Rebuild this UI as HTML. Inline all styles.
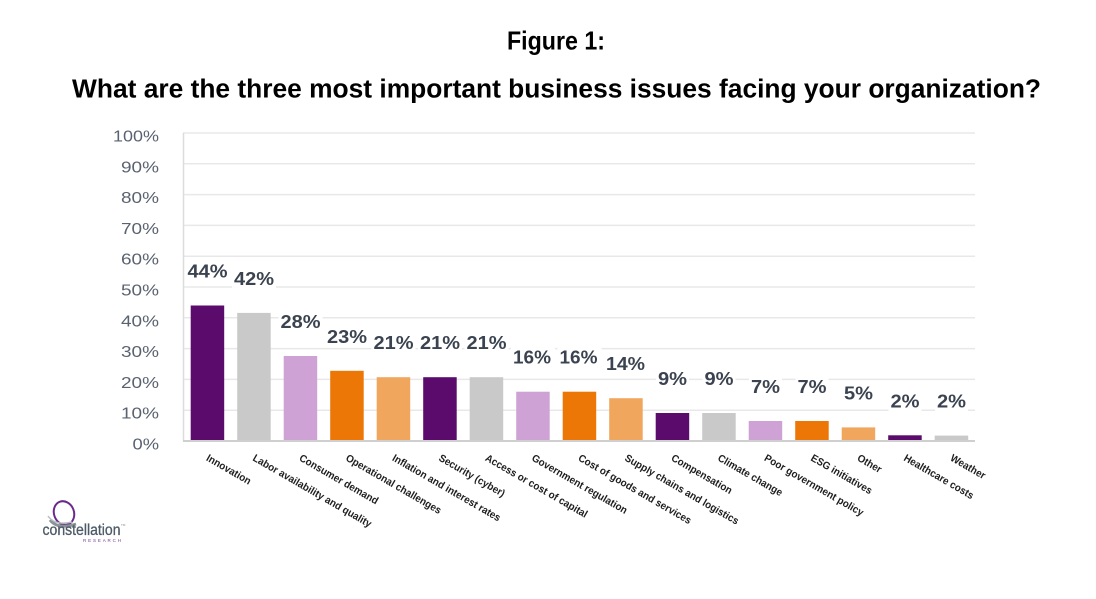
<!DOCTYPE html>
<html>
<head>
<meta charset="utf-8">
<style>
  html,body{margin:0;padding:0;background:#ffffff;}
  svg{display:block;}
  .t{font-family:"Liberation Sans",Arial,sans-serif;}
</style>
</head>
<body>
<svg width="1096" height="599" viewBox="0 0 1096 599" xmlns="http://www.w3.org/2000/svg">
  <rect width="1096" height="599" fill="#ffffff"/>

  <!-- Titles -->
  <text class="t" x="507" y="49.5" font-size="26" font-weight="bold" fill="#000" textLength="98" lengthAdjust="spacingAndGlyphs">Figure 1:</text>
  <text class="t" x="72" y="97.5" font-size="25.5" font-weight="bold" fill="#000" textLength="969" lengthAdjust="spacingAndGlyphs">What are the three most important business issues facing your organization?</text>

  <!-- Gridlines -->
  <g stroke="#e8e8e8" stroke-width="1.5">
    <line x1="183" y1="133" x2="975" y2="133"/>
    <line x1="183" y1="163.8" x2="975" y2="163.8"/>
    <line x1="183" y1="194.6" x2="975" y2="194.6"/>
    <line x1="183" y1="225.4" x2="975" y2="225.4"/>
    <line x1="183" y1="256.2" x2="975" y2="256.2"/>
    <line x1="183" y1="287" x2="975" y2="287"/>
    <line x1="183" y1="317.8" x2="975" y2="317.8"/>
    <line x1="183" y1="348.6" x2="975" y2="348.6"/>
    <line x1="183" y1="379.4" x2="975" y2="379.4"/>
    <line x1="183" y1="410.2" x2="975" y2="410.2"/>
  </g>
  <line x1="183.5" y1="133" x2="183.5" y2="441" stroke="#dcdcdc" stroke-width="1.5"/>

  <!-- Y tick labels -->
  <g class="t" font-size="15.5" fill="#5a6270" text-anchor="end">
    <text x="159" y="141.5" textLength="46" lengthAdjust="spacingAndGlyphs">100%</text>
    <text x="159" y="172.3" textLength="38" lengthAdjust="spacingAndGlyphs">90%</text>
    <text x="159" y="203.1" textLength="38" lengthAdjust="spacingAndGlyphs">80%</text>
    <text x="159" y="233.9" textLength="38" lengthAdjust="spacingAndGlyphs">70%</text>
    <text x="159" y="264.7" textLength="38" lengthAdjust="spacingAndGlyphs">60%</text>
    <text x="159" y="295.5" textLength="38" lengthAdjust="spacingAndGlyphs">50%</text>
    <text x="159" y="326.3" textLength="38" lengthAdjust="spacingAndGlyphs">40%</text>
    <text x="159" y="357.1" textLength="38" lengthAdjust="spacingAndGlyphs">30%</text>
    <text x="159" y="387.9" textLength="38" lengthAdjust="spacingAndGlyphs">20%</text>
    <text x="159" y="418.7" textLength="38" lengthAdjust="spacingAndGlyphs">10%</text>
    <text x="159" y="449.5" textLength="26.5" lengthAdjust="spacingAndGlyphs">0%</text>
  </g>

  <!-- Bars -->
  <g>
    <rect x="190.7" y="305.5" width="33.5" height="135" fill="#5b0b6b"/>
    <rect x="237.2" y="312.9" width="33.5" height="127.6" fill="#c9c9c9"/>
    <rect x="283.7" y="356.0" width="33.5" height="84.5" fill="#cfa2d6"/>
    <rect x="330.2" y="370.8" width="33.5" height="69.7" fill="#ec7706"/>
    <rect x="376.7" y="377.2" width="33.5" height="63.3" fill="#f0a65d"/>
    <rect x="423.2" y="377.2" width="33.5" height="63.3" fill="#5b0b6b"/>
    <rect x="469.7" y="377.2" width="33.5" height="63.3" fill="#c9c9c9"/>
    <rect x="516.2" y="391.7" width="33.5" height="48.8" fill="#cfa2d6"/>
    <rect x="562.7" y="391.7" width="33.5" height="48.8" fill="#ec7706"/>
    <rect x="609.2" y="398.2" width="33.5" height="42.3" fill="#f0a65d"/>
    <rect x="655.7" y="413.0" width="33.5" height="27.5" fill="#5b0b6b"/>
    <rect x="702.2" y="413.0" width="33.5" height="27.5" fill="#c9c9c9"/>
    <rect x="748.7" y="421.0" width="33.5" height="19.5" fill="#cfa2d6"/>
    <rect x="795.2" y="421.0" width="33.5" height="19.5" fill="#ec7706"/>
    <rect x="841.7" y="427.4" width="33.5" height="13.1" fill="#f0a65d"/>
    <rect x="888.2" y="435.3" width="33.5" height="5.2" fill="#5b0b6b"/>
    <rect x="934.7" y="435.6" width="33.5" height="4.9" fill="#c9c9c9"/>
  </g>

  <!-- Baseline -->
  <line x1="183" y1="441" x2="975" y2="441" stroke="#cfcfcf" stroke-width="2"/>

  <!-- Value label backgrounds -->
  <g fill="#ffffff">
    <rect x="185.5" y="261.5" width="44" height="20"/>
    <rect x="232" y="268.9" width="44" height="20"/>
    <rect x="278.5" y="312" width="44" height="20"/>
    <rect x="325" y="326.8" width="44" height="20"/>
    <rect x="371.5" y="333.2" width="44" height="20"/>
    <rect x="418" y="333.2" width="44" height="20"/>
    <rect x="464.5" y="333.2" width="44" height="20"/>
    <rect x="511" y="347.7" width="44" height="20"/>
    <rect x="557.5" y="347.7" width="44" height="20"/>
    <rect x="604" y="354.2" width="44" height="20"/>
    <rect x="656" y="369" width="33" height="20"/>
    <rect x="702.5" y="369" width="33" height="20"/>
    <rect x="749" y="377" width="33" height="20"/>
    <rect x="795.5" y="377" width="33" height="20"/>
    <rect x="842" y="383.4" width="33" height="20"/>
    <rect x="888.5" y="391.3" width="33" height="20"/>
    <rect x="935" y="391.6" width="33" height="20"/>
  </g>

  <!-- Value labels -->
  <g class="t" font-size="18" font-weight="bold" fill="#3b4350">
    <text x="187.5" y="277.5" textLength="40" lengthAdjust="spacingAndGlyphs">44%</text>
    <text x="234" y="284.9" textLength="40" lengthAdjust="spacingAndGlyphs">42%</text>
    <text x="280.5" y="328" textLength="40" lengthAdjust="spacingAndGlyphs">28%</text>
    <text x="327" y="342.8" textLength="40" lengthAdjust="spacingAndGlyphs">23%</text>
    <text x="373.5" y="349.2" textLength="40" lengthAdjust="spacingAndGlyphs">21%</text>
    <text x="420" y="349.2" textLength="40" lengthAdjust="spacingAndGlyphs">21%</text>
    <text x="466.5" y="349.2" textLength="40" lengthAdjust="spacingAndGlyphs">21%</text>
    <text x="513" y="363.7" textLength="38" lengthAdjust="spacingAndGlyphs">16%</text>
    <text x="559.5" y="363.7" textLength="38" lengthAdjust="spacingAndGlyphs">16%</text>
    <text x="606" y="370.2" textLength="39" lengthAdjust="spacingAndGlyphs">14%</text>
    <text x="658" y="385" textLength="29" lengthAdjust="spacingAndGlyphs">9%</text>
    <text x="704.5" y="385" textLength="29" lengthAdjust="spacingAndGlyphs">9%</text>
    <text x="751" y="393" textLength="29" lengthAdjust="spacingAndGlyphs">7%</text>
    <text x="797.5" y="393" textLength="29" lengthAdjust="spacingAndGlyphs">7%</text>
    <text x="844" y="399.4" textLength="29" lengthAdjust="spacingAndGlyphs">5%</text>
    <text x="890.5" y="407.3" textLength="29" lengthAdjust="spacingAndGlyphs">2%</text>
    <text x="937" y="407.6" textLength="29" lengthAdjust="spacingAndGlyphs">2%</text>
  </g>

  <!-- Category labels -->
  <g class="t" font-size="10.5" font-weight="bold" fill="#1e1e1e">
    <text transform="translate(205.5,460) rotate(30) scale(0.94,1)">Innovation</text>
    <text transform="translate(252,460) rotate(30) scale(0.94,1)">Labor availability and quality</text>
    <text transform="translate(298.5,460) rotate(30) scale(0.94,1)">Consumer demand</text>
    <text transform="translate(345,460) rotate(30) scale(0.94,1)">Operational challenges</text>
    <text transform="translate(391.5,460) rotate(30) scale(0.94,1)">Inflation and interest rates</text>
    <text transform="translate(438,460) rotate(30) scale(0.94,1)">Security (cyber)</text>
    <text transform="translate(484.5,460) rotate(30) scale(0.94,1)">Access or cost of capital</text>
    <text transform="translate(531,460) rotate(30) scale(0.94,1)">Government regulation</text>
    <text transform="translate(577.5,460) rotate(30) scale(0.94,1)">Cost of goods and services</text>
    <text transform="translate(624,460) rotate(30) scale(0.94,1)">Supply chains and logistics</text>
    <text transform="translate(670.5,460) rotate(30) scale(0.94,1)">Compensation</text>
    <text transform="translate(717,460) rotate(30) scale(0.94,1)">Climate change</text>
    <text transform="translate(763.5,460) rotate(30) scale(0.94,1)">Poor government policy</text>
    <text transform="translate(810,460) rotate(30) scale(0.94,1)">ESG initiatives</text>
    <text transform="translate(856.5,460) rotate(30) scale(0.94,1)">Other</text>
    <text transform="translate(903,460) rotate(30) scale(0.94,1)">Healthcare costs</text>
    <text transform="translate(949.5,460) rotate(30) scale(0.94,1)">Weather</text>
  </g>

  <!-- Logo -->
  <g>
    <ellipse cx="64" cy="513" rx="10" ry="12" fill="none" stroke="#6a2a8a" stroke-width="2" transform="rotate(-20 64 513)"/>
    <path d="M50 520 Q58 530 76 524" fill="none" stroke="#8a9399" stroke-width="3"/>
    <path d="M48 516 Q55 526 72 522" fill="none" stroke="#b8bec2" stroke-width="1.5"/>
    <text class="t" x="42.5" y="535" font-size="16" fill="#4d5a66" stroke="#4d5a66" stroke-width="0.3" textLength="78" lengthAdjust="spacingAndGlyphs">constellation</text>
    <text class="t" x="121" y="526" font-size="3" fill="#888">TM</text>
    <text class="t" x="83" y="542" font-size="4.5" fill="#7a3a8e" textLength="38" lengthAdjust="spacing">RESEARCH</text>
  </g>
</svg>
</body>
</html>
